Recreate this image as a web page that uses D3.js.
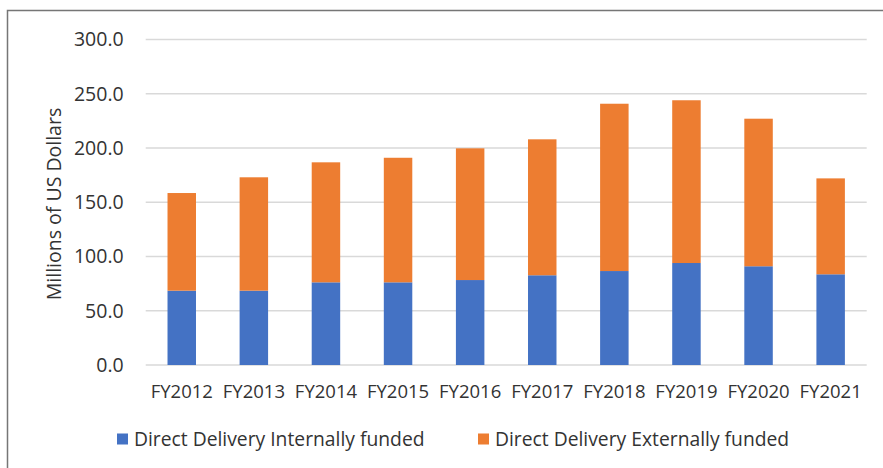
<!DOCTYPE html>
<html>
<head>
<meta charset="utf-8">
<script src="https://cdn.jsdelivr.net/npm/d3@7"></script>
<style>
    body { margin: 0; background: #fff; }
    text { font-family: "Open Sans", sans-serif; fill: #333; }
</style>
</head>
<body>
<div id="chart"></div>
<script>
// chart data
var years = ["FY2012", "FY2013", "FY2014", "FY2015", "FY2016", "FY2017", "FY2018", "FY2019", "FY2020", "FY2021"];
var internal_funded = [68.5, 68.5, 76.2, 76.2, 78.3, 82.7, 86.6, 94.0, 91.0, 83.6];
var external_funded = [90.0, 104.5, 110.6, 114.8, 121.4, 125.3, 154.2, 150.0, 136.0, 88.4];
var y_ticks = [0, 50, 100, 150, 200, 250, 300];
var series_names = ["Direct Delivery Internally funded", "Direct Delivery Externally funded"];
var colors = ["#4472C4", "#ED7D31"];

// set up chart parameters
var svg_width = 883;
var svg_height = 468;
var margin = { top: 39.5, right: 16.3, bottom: 103, left: 145.7 };
var width = svg_width - margin.left - margin.right;
var height = svg_height - margin.top - margin.bottom;

var svg = d3.select("#chart")
    .append("svg")
    .attr("width", svg_width)
    .attr("height", svg_height);

// outer frame (runs off the right and bottom edges)
svg.append("rect")
    .attr("x", 7.5)
    .attr("y", 10.5)
    .attr("width", 900)
    .attr("height", 500)
    .attr("fill", "none")
    .attr("stroke", "#767676")
    .attr("stroke-width", 1.5);

var chart = svg.append("g")
    .attr("transform", `translate(${margin.left}, ${margin.top})`);

// stack the two series
var table = years.map((y, i) => ({ year: y, internal: internal_funded[i], external: external_funded[i] }));
var stacked = d3.stack().keys(["internal", "external"])(table);

// scales
var x_scale = d3.scaleBand()
    .domain(years)
    .range([0, width])
    .paddingInner(0.605)
    .paddingOuter(0.3025);

var y_scale = d3.scaleLinear()
    .domain([0, 300])
    .range([height, 0]);

// gridlines
chart.append("g")
    .selectAll("line")
    .data(y_ticks)
    .enter()
    .append("line")
    .attr("x1", 0)
    .attr("x2", width)
    .attr("y1", d => y_scale(d))
    .attr("y2", d => y_scale(d))
    .attr("stroke", "#d9d9d9")
    .attr("stroke-width", 1.5);

// y axis labels
var left_axis = d3.axisLeft(y_scale)
    .tickValues(y_ticks)
    .tickFormat(d3.format(".1f"))
    .tickSize(0)
    .tickPadding(22);

var y_axis = chart.append("g").call(left_axis);
y_axis.select(".domain").remove();
y_axis.selectAll("text")
    .attr("font-size", "19.5px")
    .attr("fill", "#333")
    .style("font-family", "'Open Sans', sans-serif");

// x axis labels
var bottom_axis = d3.axisBottom(x_scale)
    .tickSize(0)
    .tickPadding(20);

var x_axis = chart.append("g")
    .attr("transform", `translate(0, ${height})`)
    .call(bottom_axis);
x_axis.select(".domain").remove();
x_axis.selectAll("text")
    .attr("font-size", "18.5px")
    .attr("fill", "#333")
    .style("font-family", "'Open Sans', sans-serif");

// bars
chart.selectAll(".series")
    .data(stacked)
    .enter()
    .append("g")
    .attr("fill", (d, i) => colors[i])
    .selectAll("rect")
    .data(d => d)
    .enter()
    .append("rect")
    .attr("x", d => x_scale(d.data.year))
    .attr("y", d => y_scale(d[1]))
    .attr("width", x_scale.bandwidth())
    .attr("height", d => y_scale(d[0]) - y_scale(d[1]));

// y axis title
svg.append("text")
    .attr("transform", "rotate(-90)")
    .attr("x", -204)
    .attr("y", 61)
    .attr("text-anchor", "middle")
    .attr("font-size", "19.5px")
    .text("Millions of US Dollars");

// legend
var legend_x = [117, 478];
var legend = svg.selectAll(".legend")
    .data(series_names)
    .enter()
    .append("g")
    .attr("transform", (d, i) => `translate(${legend_x[i]}, 439)`);

legend.append("rect")
    .attr("x", 0)
    .attr("y", -5.5)
    .attr("width", 11)
    .attr("height", 11)
    .attr("fill", (d, i) => colors[i]);

legend.append("text")
    .attr("x", 17)
    .attr("y", 0)
    .attr("dy", "0.35em")
    .attr("font-size", "19.3px")
    .text(d => d);
</script>
</body>
</html>
